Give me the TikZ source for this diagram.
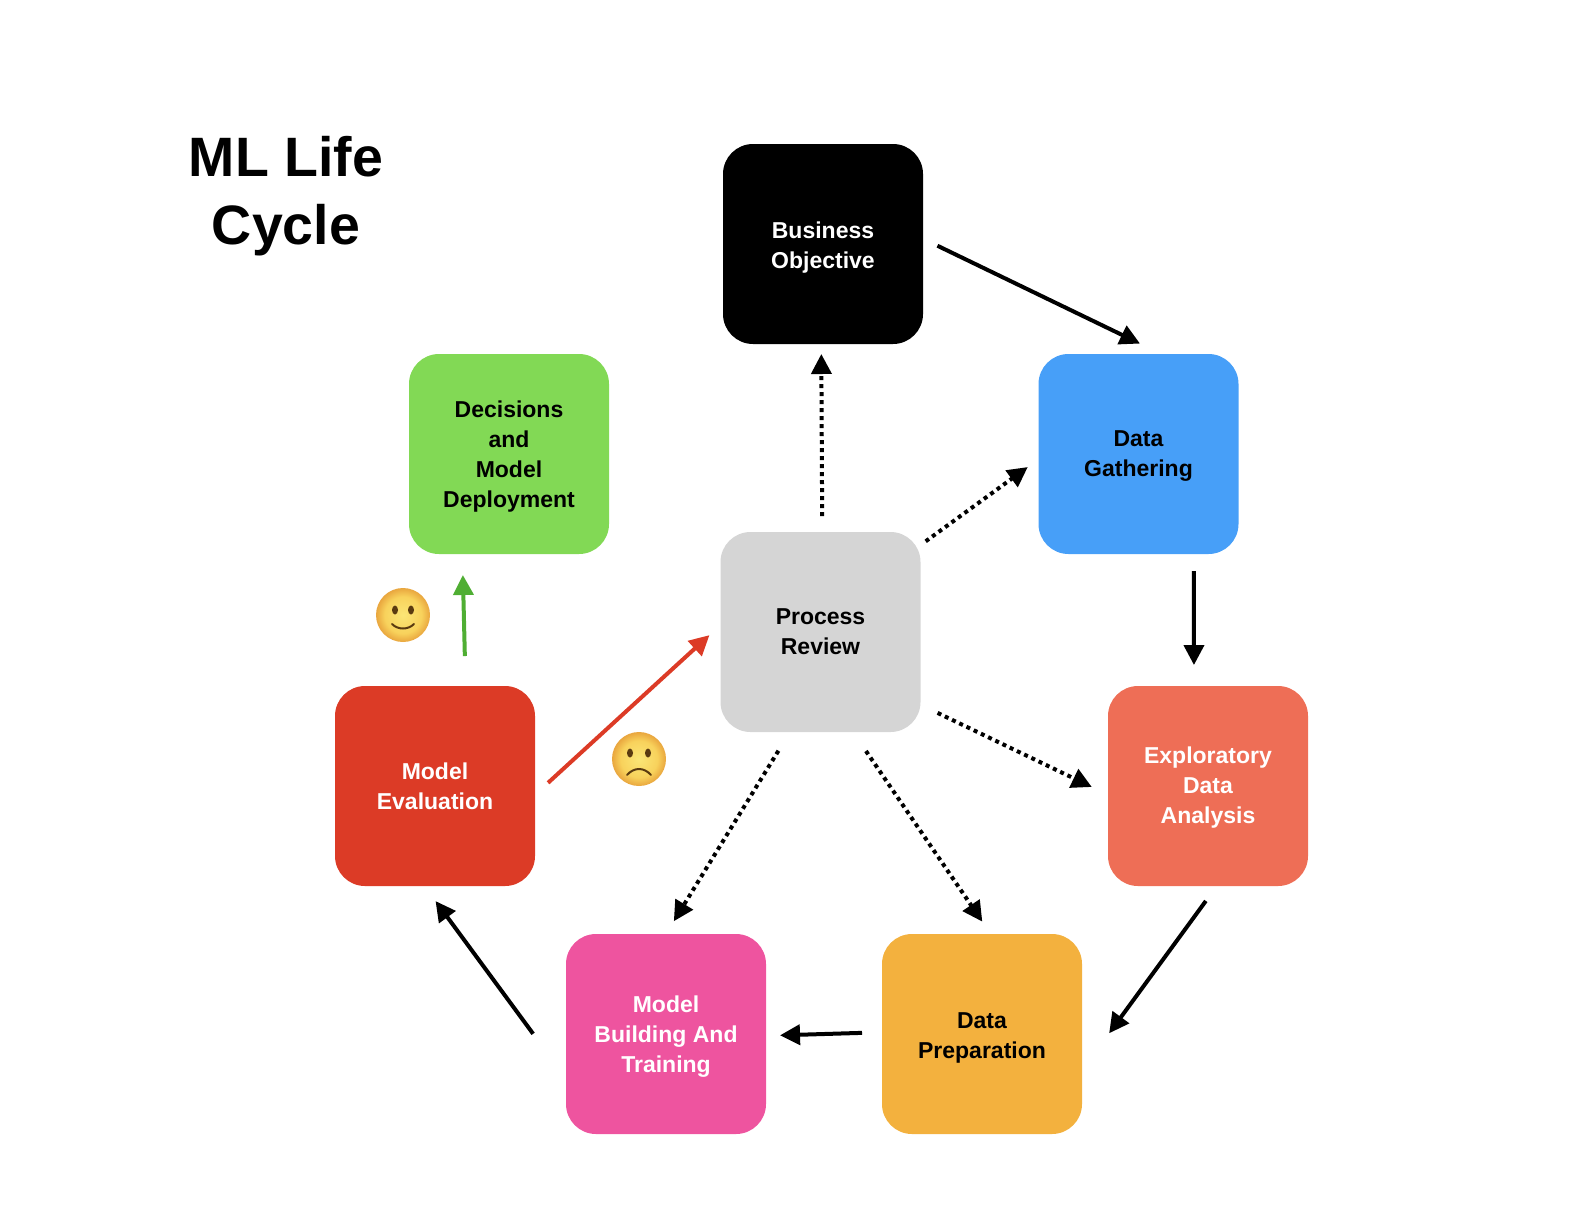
\documentclass[tikz,border=0pt]{standalone}
\usepackage{fontspec}
\setmainfont{Liberation Sans}
\usetikzlibrary{arrows.meta,positioning}
\definecolor{LifeGreen}{HTML}{82D955}
\definecolor{LifeBlue}{HTML}{479FF8}
\definecolor{LifeGray}{HTML}{D5D5D5}
\definecolor{LifeRed}{HTML}{DC3B26}
\definecolor{LifeCoral}{HTML}{EE6E56}
\definecolor{LifePink}{HTML}{EE549F}
\definecolor{LifeOrange}{HTML}{F3B13E}
\definecolor{ArrowGreen}{HTML}{4FAE33}
\definecolor{FaceInner}{HTML}{FBE676}
\definecolor{FaceMid}{HTML}{F8D25C}
\definecolor{FaceOuter}{HTML}{E9A63E}
\definecolor{FaceDark}{HTML}{5A3A10}
\pgfdeclareradialshading{faceball}{\pgfpoint{0bp}{0bp}}{color(0bp)=(FaceInner); color(17bp)=(FaceMid); color(25bp)=(FaceOuter); color(50bp)=(FaceOuter)}

\begin{document}
\begin{tikzpicture}[
    x=1pt,y=-1pt,
    stagebox/.style={rounded corners=30pt,minimum size=200pt,inner sep=0pt,outer sep=0pt,
      align=center,font=\fontsize{23}{30}\selectfont\bfseries},
    titletext/.style={align=center,font=\fontsize{55.5}{68.5}\selectfont\bfseries},
    arrow/.style={-{Triangle[length=20pt,width=20pt]},line width=4pt},
    dottedarrow/.style={arrow,dash pattern=on 4pt off 4pt},
    facebox/.style={circle,minimum size=54pt,inner sep=0pt,shading=faceball},
    faceline/.style={draw=FaceDark,line width=2pt,line cap=round}
  ]
    \useasboundingbox (0,0) rectangle (1584,1224);

    \node[titletext] (title) at (286,196) {ML Life\\Cycle};

    \node[stagebox,fill=black,text=white] (objective) at (823,244) {\rule{0pt}{24.5pt}Business\\Objective};
    \node[stagebox,fill=LifeBlue,below right=10pt and 115.5pt of objective] (gathering) {\rule{0pt}{20.5pt}Data\\Gathering};
    \node[stagebox,fill=LifeGray,left=118pt of gathering,yshift=-178pt] (review) {Process\\Review};
    \node[stagebox,fill=LifeGreen,left=429.5pt of gathering] (decisions) {\rule{0pt}{22.5pt}Decisions\\and\\Model\\Deployment};
    \node[stagebox,fill=LifeCoral,text=white,below=132pt of gathering,xshift=69.5pt] (eda) {\rule{0pt}{20.5pt}Exploratory\\Data\\Analysis};
    \node[stagebox,fill=LifeRed,text=white,left=573pt of eda] (evaluation) {Model\\Evaluation};
    \node[stagebox,fill=LifeOrange,below=48pt of eda,xshift=-226pt] (preparation) {\rule{0pt}{24.5pt}Data\\Preparation};
    \node[stagebox,fill=LifePink,text=white,left=116pt of preparation] (building) {\rule{0pt}{22.5pt}Model\\Building And\\Training};

    \draw[arrow,shorten <=16pt,shorten >=24pt] (objective.3) -- (gathering.77);
    \draw[arrow,shorten <=17pt,shorten >=21pt] (gathering.-61) -- (eda.98);
    \draw[arrow,shorten <=18.5pt,shorten >=46pt] (eda.-85) -- (preparation.-20);
    \draw[arrow,shorten <=20pt,shorten >=14pt] (preparation.179) -- (building.-1);
    \draw[arrow,shorten <=55.5pt,shorten >=18.7pt] (building.-156) -- (evaluation.-96);
    \draw[arrow,ArrowGreen,shorten <=30pt,shorten >=21pt] (evaluation.73) -- (decisions.-115);
    \draw[arrow,LifeRed,shorten <=17.7pt,shorten >=15pt] (evaluation.-5) -- (review.176);

    \draw[dottedarrow,shorten <=16pt,shorten >=10pt] (review.89) -- (objective.-91);
    \draw[dottedarrow,shorten <=6.4pt,shorten >=13.3pt] (review.41) -- (gathering.-177);
    \draw[dottedarrow,shorten <=19pt,shorten >=18pt] (review.-36) -- (eda.-175);
    \draw[dottedarrow,shorten <=23pt,shorten >=15pt] (review.-72) -- (preparation.85);
    \draw[dottedarrow,shorten <=22pt,shorten >=15pt] (review.-107) -- (building.north);

    \node[facebox] (smile) at (403,615) {};
    \fill[FaceDark] (smile.center) ++(-8,-5) ellipse (3pt and 4.5pt) ++(16,0) ellipse (3pt and 4.5pt);
    \draw[faceline] (smile.center) ++(-11,9) .. controls +(6,6) and +(-6,6) .. +(22,0);

    \node[facebox] (frown) at (639,759) {};
    \fill[FaceDark] (frown.center) ++(-9,-6) ellipse (3pt and 4.5pt) ++(18,0) ellipse (3pt and 4.5pt);
    \draw[faceline] (frown.center) ++(-12,16) .. controls +(7,-8) and +(-7,-8) .. +(24,0);
  \end{tikzpicture}
\end{document}
